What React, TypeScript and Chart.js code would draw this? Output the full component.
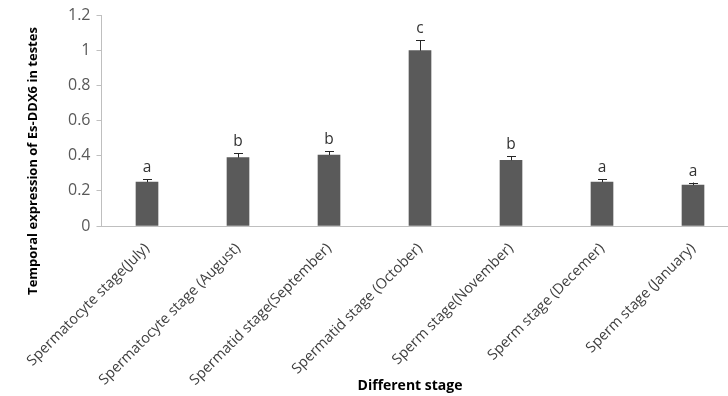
import React, { useEffect, useRef } from "react";
import { Chart, registerables } from "chart.js";

Chart.register(...registerables);

const categories = [
  "Spermatocyte stage(July)",
  "Spermatocyte stage (August)",
  "Spermatid stage(September)",
  "Spermatid stage (October)",
  "Sperm stage(November)",
  "Sperm stage (Decemer)",
  "Sperm stage (January)",
];
const values = [0.25, 0.39, 0.405, 1.0, 0.375, 0.25, 0.233];
const errors = [0.017, 0.024, 0.022, 0.06, 0.022, 0.018, 0.015];
const letters = ["a", "b", "b", "c", "b", "a", "a"];
const yTicks = [0, 0.2, 0.4, 0.6, 0.8, 1, 1.2];
const yTitle = "Temporal expression of Es-DDX6 in testes";
const xTitle = "Different stage";

const FONT = "'Open Sans', 'Liberation Sans', sans-serif";

const annotate = {
  id: "annotate",
  afterDatasetsDraw(chart: any) {
    const ctx = chart.ctx;
    const meta = chart.getDatasetMeta(0);
    const y = chart.scales.y;
    ctx.save();
    meta.data.forEach((bar: any, i: number) => {
      const x = bar.x;
      const y0 = y.getPixelForValue(values[i]);
      const y1 = y.getPixelForValue(values[i] + errors[i]);
      ctx.strokeStyle = "#262626";
      ctx.lineWidth = 1;
      ctx.beginPath();
      ctx.moveTo(x + 0.5, y0);
      ctx.lineTo(x + 0.5, y1);
      ctx.moveTo(x - 4, Math.round(y1) + 0.5);
      ctx.lineTo(x + 5, Math.round(y1) + 0.5);
      ctx.stroke();
      ctx.fillStyle = "#333333";
      ctx.font = `15.5px ${FONT}`;
      ctx.textAlign = "center";
      ctx.textBaseline = "alphabetic";
      ctx.fillText(letters[i], x, y1 - 7);
    });
    ctx.restore();
  },
  afterDraw(chart: any) {
    const ctx = chart.ctx;
    ctx.save();
    ctx.fillStyle = "#000000";
    ctx.font = `bold 13px ${FONT}`;
    ctx.textAlign = "center";
    ctx.textBaseline = "middle";
    ctx.translate(33, 161);
    ctx.rotate(-Math.PI / 2);
    ctx.fillText(yTitle, 0, 0);
    ctx.restore();
    ctx.save();
    ctx.fillStyle = "#000000";
    ctx.font = `bold 14px ${FONT}`;
    ctx.textAlign = "center";
    ctx.textBaseline = "middle";
    ctx.fillText(xTitle, 410, 386);
    ctx.restore();
  },
};

export default function App() {
  const ref = useRef<HTMLCanvasElement | null>(null);
  useEffect(() => {
    if (!ref.current) return;
    const chart = new Chart(ref.current, {
      type: "bar",
      data: {
        labels: categories,
        datasets: [
          {
            data: values,
            backgroundColor: "#5a5a5a",
            borderWidth: 0,
            barThickness: 22,
          },
        ],
      },
      options: {
        responsive: false,
        animation: false,
        layout: { padding: { left: 0, top: 15, right: 6.5, bottom: 0 } },
        plugins: {
          legend: { display: false },
          tooltip: { enabled: false },
        },
        scales: {
          x: {
            grid: {
              display: false,
              drawTicks: false,
            },
            border: { color: "#bfbfbf", width: 1 },
            ticks: {
              minRotation: 45,
              maxRotation: 45,
              autoSkip: false,
              padding: 14,
              color: "#404040",
              font: { family: FONT, size: 14.5 },
            },
            afterFit(scale: any) {
              scale.height = 170;
            },
          },
          y: {
            min: 0,
            max: 1.2,
            grid: {
              display: true,
              drawOnChartArea: false,
              drawTicks: true,
              tickLength: 5,
              color: "#bfbfbf",
            },
            border: { color: "#bfbfbf", width: 1 },
            afterBuildTicks(scale: any) {
              scale.ticks = yTicks.map((v) => ({ value: v }));
            },
            ticks: {
              padding: 6,
              color: "#595959",
              font: { family: FONT, size: 16 },
              callback: (v: any) => String(Number(Number(v).toFixed(1))),
            },
            afterFit(scale: any) {
              scale.width = 101.5;
            },
          },
        },
      },
      plugins: [annotate],
    });
    return () => chart.destroy();
  }, []);
  return (
    <div
      style={{
        position: "absolute",
        left: 0,
        top: 0,
        width: 728,
        height: 396,
        overflow: "hidden",
        background: "#ffffff",
      }}
    >
      <canvas ref={ref} width={745} height={396} style={{ width: 745, height: 396 }} />
    </div>
  );
}
